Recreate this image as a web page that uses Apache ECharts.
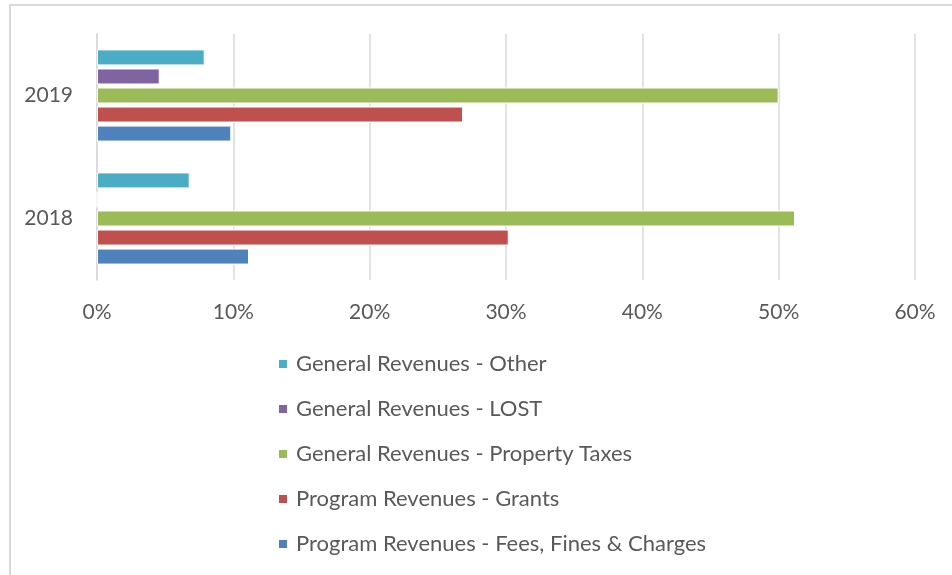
<!DOCTYPE html>
<html>
<head>
<meta charset="utf-8">
<script src="https://cdn.jsdelivr.net/npm/echarts@6/dist/echarts.min.js"></script>
<style>
  html, body { margin: 0; padding: 0; background: #fff; }
  #chart { width: 952px; height: 575px; }
</style>
</head>
<body>
<div id="chart"></div>
<script>
// categories, bottom to top
const years = ["2018", "2019"];

// share of revenue, percent
const otherGeneral = [6.8, 7.9];
const lost = [0, 4.6];
const propertyTaxes = [51.2, 50.0];
const grants = [30.2, 26.85];
const feesFinesCharges = [11.15, 9.85];

const xTicks = [0, 10, 20, 30, 40, 50, 60];

// ECharts stacks horizontal bar series top-down, so Other comes first
const seriesNames = [
  "General Revenues - Other",
  "General Revenues - LOST",
  "General Revenues - Property Taxes",
  "Program Revenues - Grants",
  "Program Revenues - Fees, Fines & Charges"
];
const seriesData = [otherGeneral, lost, propertyTaxes, grants, feesFinesCharges];
const colors = ["#4bacc6", "#8064a2", "#9bbb59", "#c0504d", "#4f81bd"];

const font = "Lato";
const textColor = "#595959";
const gridColor = "#d9d9d9";

const chart = echarts.init(document.getElementById("chart"));

const option = {
  animation: false,
  textStyle: { fontFamily: font },
  grid: {
    left: 97,
    right: 37,
    top: 34,
    bottom: 295,
    containLabel: false
  },
  legend: {
    orient: "vertical",
    left: 272,
    top: 348,
    itemWidth: 10,
    itemHeight: 10,
    itemGap: 23,
    icon: "rect",
    data: seriesNames,
    textStyle: {
      color: textColor,
      fontFamily: font,
      fontSize: 22,
      lineHeight: 22,
      padding: [0, 0, 0, 3]
    }
  },
  xAxis: {
    type: "value",
    min: xTicks[0],
    max: xTicks[xTicks.length - 1],
    interval: 10,
    axisLine: { show: false },
    axisTick: { show: false },
    splitLine: { lineStyle: { color: gridColor, width: 1.5 } },
    axisLabel: {
      color: textColor,
      fontFamily: font,
      fontSize: 21,
      margin: 22,
      formatter: v => v + "%"
    }
  },
  yAxis: {
    type: "category",
    data: years,
    axisLine: { lineStyle: { color: gridColor, width: 1.5 } },
    axisTick: { length: 8, lineStyle: { color: gridColor, width: 1.5 } },
    axisLabel: {
      color: textColor,
      fontFamily: font,
      fontSize: 21,
      margin: 24
    }
  },
  series: seriesNames.map((name, i) => ({
    name: name,
    type: "bar",
    data: seriesData[i],
    barWidth: 16,
    barGap: "19%",
    itemStyle: {
      color: colors[i],
      borderColor: "#fff",
      borderWidth: 1
    }
  })),
  graphic: [{
    type: "polyline",
    silent: true,
    shape: { points: [[10, 575], [10, 5], [952, 5]] },
    style: { stroke: gridColor, lineWidth: 2, fill: null }
  }]
};

chart.setOption(option);
</script>
</body>
</html>
